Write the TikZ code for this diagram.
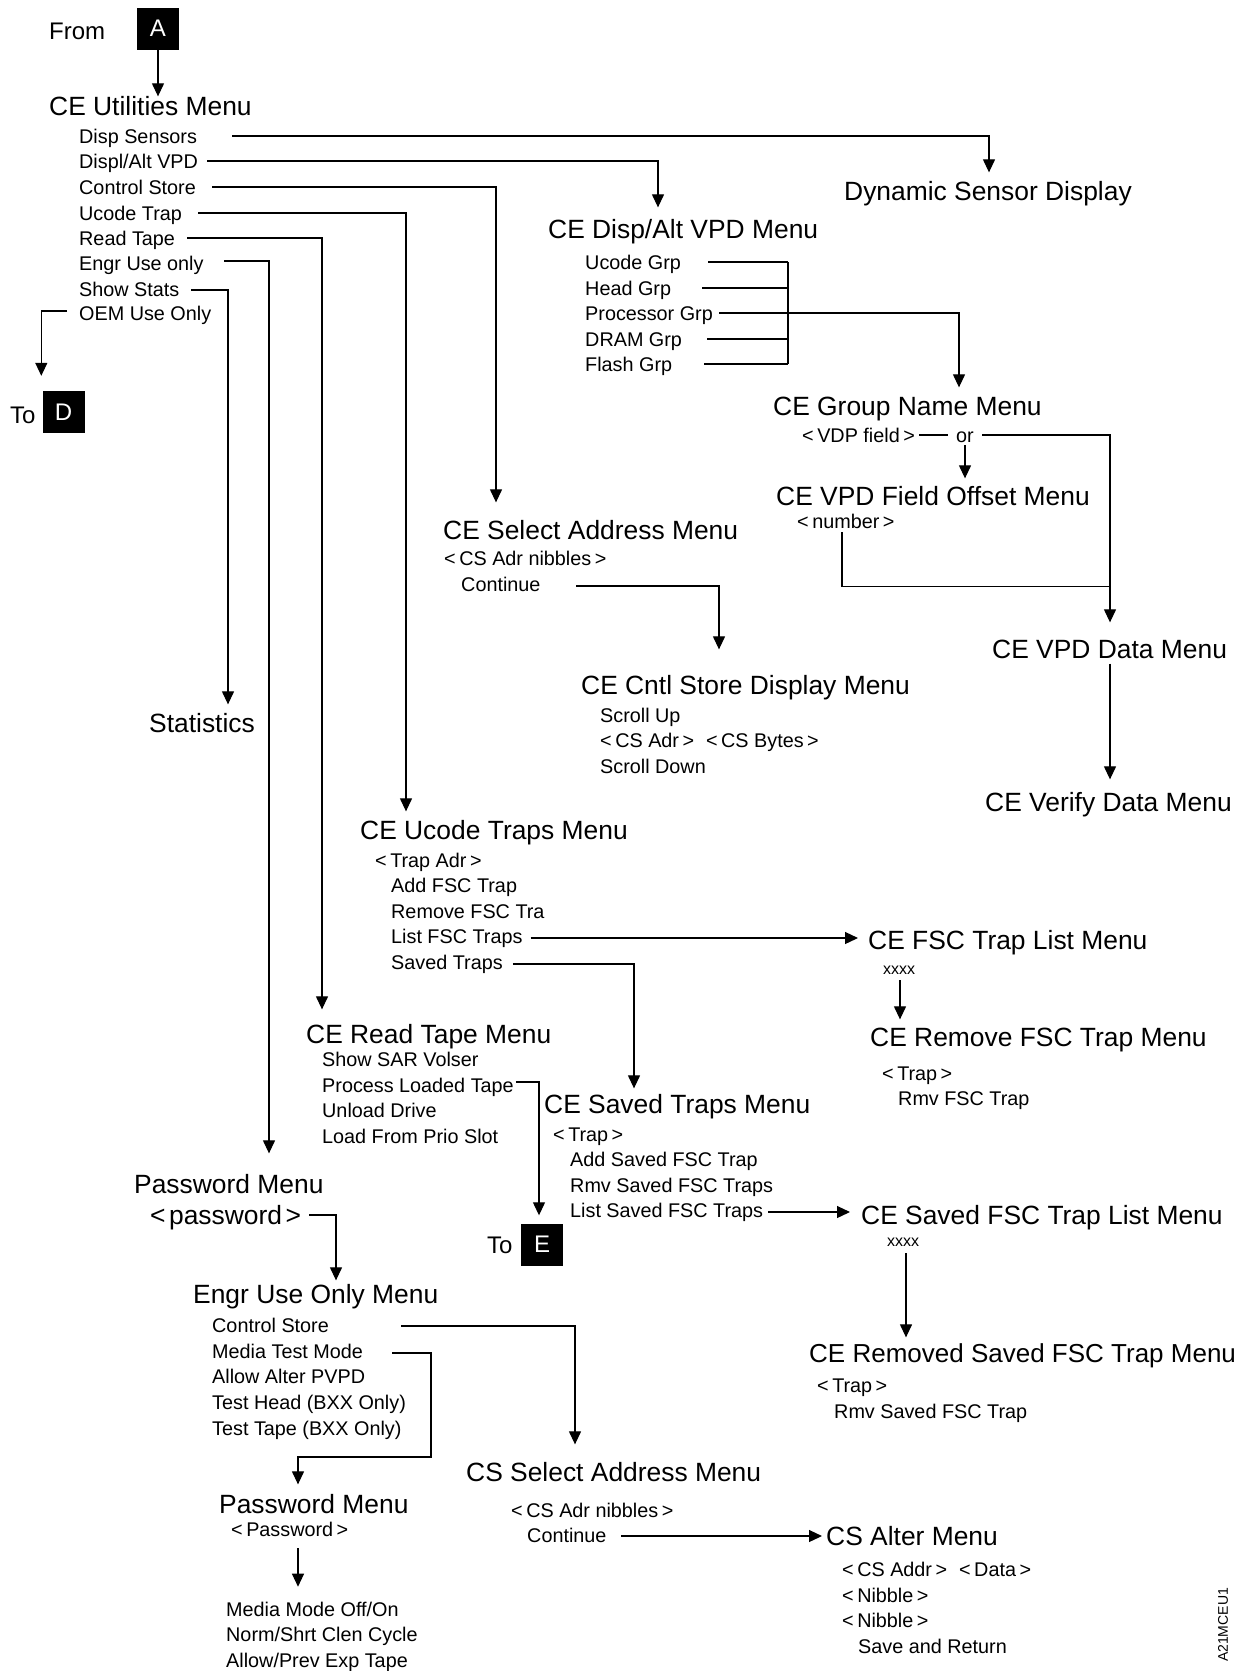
\documentclass[tikz,border=0pt]{standalone}
\usepackage{fontspec}
\setmainfont{Liberation Sans}
\usetikzlibrary{arrows.meta,calc}
\newcommand{\myla}{<\hspace{3.5pt}}
\newcommand{\myra}{\hspace{3.5pt}>}
\begin{document}
\begin{tikzpicture}[x=1pt,y=-1pt,
  hd/.style={font=\fontsize{26.4}{30}\selectfont, inner sep=0pt, anchor=west, text height=18.9pt, text depth=0pt},
  it/.style={font=\fontsize{19.8}{23}\selectfont, inner sep=0pt, anchor=west, text height=14.2pt, text depth=0pt},
  sm/.style={font=\fontsize{16}{18}\selectfont, inner sep=0pt, anchor=west, text height=8pt, text depth=0pt},
  lbl/.style={font=\fontsize{24}{28}\selectfont, inner sep=0pt, anchor=west, text height=17.2pt, text depth=0pt},
  blk/.style={fill=black, text=white, font=\fontsize{24}{28}\selectfont, minimum width=42pt, minimum height=42pt, inner sep=0pt},
  ln/.style={line width=1.2pt},
  arr/.style={ln, -{Triangle[length=13pt,width=12pt]}},
]
\useasboundingbox (0,0) rectangle (1239,1671);

% ---------- top ----------
\node[lbl] (from) at (49,31) {From};
\node[blk] (A) at (158,28.5) {A};
\node[hd] (util) at (49,106) {CE Utilities Menu};
\node[it] (ds) at (79,136) {Disp Sensors};
\node[it] (dv) at (79,161) {Displ/Alt VPD};
\node[it] (cs) at (79,187) {Control Store};
\node[it] (ut) at (79,213) {Ucode Trap};
\node[it] (rt) at (79,238) {Read Tape};
\node[it] (eu) at (79,263) {Engr Use only};
\node[it] (ss) at (79,289) {Show Stats};
\node[it] (oem) at (79,313) {OEM Use Only};
\node[lbl] (toD) at (10,415) {To};
\node[blk] (D) at (63.5,412) {D};

% ---------- headings ----------
\node[hd] (dsd) at (844,191) {Dynamic Sensor Display};
\node[hd] (dam) at (548,229) {CE Disp/Alt VPD Menu};
\node[it] (ug) at (585,262) {Ucode Grp};
\node[it] (hg) at (585,288) {Head Grp};
\node[it] (pg) at (585,313) {Processor Grp};
\node[it] (dg) at (585,339) {DRAM Grp};
\node[it] (fg) at (585,364) {Flash Grp};

\node[hd] (gnm) at (773,406) {CE Group Name Menu};
\node[it] (vdp) at (802,435) {\myla VDP field\myra};
\node[it] (or) at (956,435) {or};
\node[hd] (vfo) at (776,496) {CE VPD Field Offset Menu};
\node[it] (num) at (797,521) {\myla number\myra};
\node[hd] (vdm) at (992,649) {CE VPD Data Menu};
\node[hd] (vrf) at (985,802) {CE Verify Data Menu};

\node[hd] (sam) at (443,530) {CE Select Address Menu};
\node[it] (cadr) at (444,558) {\myla CS Adr nibbles\myra};
\node[it] (cont) at (461,584) {Continue};
\node[hd] (csd) at (581,685) {CE Cntl Store Display Menu};
\node[it] (su) at (600,715) {Scroll Up};
\node[it] (cab) at (600,740) {\myla CS Adr\myra\hspace{12pt}\myla CS Bytes\myra};
\node[it] (sd) at (600,766) {Scroll Down};

\node[hd] (stat) at (149,723) {Statistics};

\node[hd] (utm) at (360,830) {CE Ucode Traps Menu};
\node[it] (tadr) at (375,860) {\myla Trap Adr\myra};
\node[it] (aft) at (391,885) {Add FSC Trap};
\node[it] (remt) at (391,911) {Remove FSC Tra};
\node[it] (lft) at (391,936) {List FSC Traps};
\node[it] (svt) at (391,962) {Saved Traps};

\node[hd] (ftl) at (868,940) {CE FSC Trap List Menu};
\node[sm] (x1) at (883,970) {xxxx};
\node[hd] (rft) at (870,1037) {CE Remove FSC Trap Menu};
\node[it] (rtrp) at (882,1073) {\myla Trap\myra};
\node[it] (rmv) at (898,1098) {Rmv FSC Trap};

\node[hd] (rtm) at (306,1034) {CE Read Tape Menu};
\node[it] (sar) at (322,1059) {Show SAR Volser};
\node[it] (plt) at (322,1085) {Process Loaded Tape};
\node[it] (uld) at (322,1110) {Unload Drive};
\node[it] (lfp) at (322,1136) {Load From Prio Slot};
\node[lbl] (toE) at (487,1245) {To};
\node[blk] (E) at (542,1244.5) {E};

\node[hd] (stm) at (544,1104) {CE Saved Traps Menu};
\node[it] (strp) at (553,1134) {\myla Trap\myra};
\node[it] (asf) at (570,1159) {Add Saved FSC Trap};
\node[it] (rsft) at (570,1185) {Rmv Saved FSC Traps};
\node[it] (lsf) at (570,1210) {List Saved FSC Traps};

\node[hd] (sfl) at (861,1215) {CE Saved FSC Trap List Menu};
\node[sm] (x2) at (887,1242) {xxxx};
\node[hd, font=\fontsize{26}{30}\selectfont] (rsf) at (809,1353) {CE Removed Saved FSC Trap Menu};
\node[it] (rstp) at (817,1385) {\myla Trap\myra};
\node[it] (rsv) at (834,1411) {Rmv Saved FSC Trap};

\node[hd] (pwm) at (134,1184) {Password Menu};
\node[hd] (pwd) at (150,1215) {\myla password\myra};
\node[hd] (euo) at (193,1294) {Engr Use Only Menu};
\node[it] (ecs) at (212,1325) {Control Store};
\node[it] (mtm) at (212,1351) {Media Test Mode};
\node[it] (aap) at (212,1376) {Allow Alter PVPD};
\node[it] (thd) at (212,1402) {Test Head (BXX Only)};
\node[it] (ttp) at (212,1428) {Test Tape (BXX Only)};

\node[hd] (pwm2) at (219,1504) {Password Menu};
\node[it] (pwd2) at (231,1529) {\myla Password\myra};
\node[it] (mmo) at (226,1609) {Media Mode Off/On};
\node[it] (nsc) at (226,1634) {Norm/Shrt Clen Cycle};
\node[it] (ape) at (226,1660) {Allow/Prev Exp Tape};

\node[hd] (csa) at (466,1472) {CS Select Address Menu};
\node[it] (cnib) at (511,1510) {\myla CS Adr nibbles\myra};
\node[it] (ccont) at (527,1535) {Continue};
\node[hd] (cam) at (826,1536) {CS Alter Menu};
\node[it] (cad) at (842,1569) {\myla CS Addr\myra\hspace{12pt}\myla Data\myra};
\node[it] (nb1) at (842,1595) {\myla Nibble\myra};
\node[it] (nb2) at (842,1620) {\myla Nibble\myra};
\node[it] (svr) at (858,1646) {Save and Return};

\node[font=\fontsize{14}{16}\selectfont, rotate=90, inner sep=0pt] (code) at (1223,1625) {A21MCEU1};

% ---------- connectors ----------
\draw[arr] (A.south) -- (A.south |- util.north);
\draw[arr] ($(ds.west)+(153,0)$) -| ($(dsd.north west)+(145,-9)$);
\draw[arr] ($(dv.west)+(128,0)$) -| ($(dam.north west)+(110,-12)$);
\draw[arr] ($(cs.west)+(133,0)$) -| ($(sam.north west)+(53,-18)$);
\draw[arr] ($(ut.west)+(119,0)$) -| ($(utm.north west)+(46,-9)$);
\draw[arr] ($(rt.west)+(108,0)$) -| ($(rtm.north west)+(16,-15)$);
\draw[arr] ($(eu.west)+(145,-2)$) -| ($(pwm.north west)+(135,-21)$);
\draw[arr] ($(ss.west)+(112,1)$) -| ($(stat.north west)+(79,-9)$);
\draw[arr] ($(oem.west)+(-12,-2)$) -| ($(D.north west)+(-1,-15)$);

\coordinate (bt) at ($(ug.west)+(203,0)$);
\draw[ln] ($(ug.west)+(123,0)$) -- (bt);
\draw[ln] ($(hg.west)+(117,0)$) -- (hg.west -| bt);
\draw[ln] ($(dg.west)+(122,0)$) -- (dg.west -| bt);
\draw[ln] ($(fg.west)+(119,0)$) -- (fg.west -| bt);
\draw[ln] (bt) -- (fg.west -| bt);
\draw[arr] ($(pg.east)+(6,0)$) -| ($(gnm.north west)+(186,-9)$);

\draw[ln] ($(vdp.east)+(4,0)$) -- ($(or.west)+(-8,0)$);
\draw[arr] ($(or.east)+(8,0)$) -| ($(vdm.north west)+(118,-17)$);
\draw[arr] ($(or.south west)+(9,3)$) -- ($(vfo.north west)+(189,-8)$);
\coordinate (nj) at ($(vdm.north west)+(118,-53)$);
\draw[ln] ($(num.south west)+(45,4)$) |- (nj);
\draw[arr] ($(vdm.south west)+(118,5)$) -- ($(vrf.north west)+(125,-13)$);

\draw[arr] ($(cont.west)+(115,2)$) -| ($(csd.north west)+(138,-26)$);

\draw[arr] ($(lft.east)+(8,2)$) -- ($(lft.east -| ftl.west)+(-10,2)$);
\draw[arr] ($(svt.east)+(10,2)$) -| ($(stm.north west)+(90,-6)$);
\draw[arr] ($(x1.south west)+(17,6)$) -- ($(rft.north west)+(30,-8)$);

\draw[arr] ($(plt.east)+(2,-3)$) -| ($(E.north)+(-3,-8)$);
\draw[arr] ($(lsf.east)+(5,2)$) -- ($(lsf.east -| sfl.west)+(-11,2)$);
\draw[arr] ($(x2.south west)+(19,7)$) -- ($(rsf.north west)+(97,-6)$);

\draw[arr] ($(pwd.west)+(159,0)$) -| ($(euo.north west)+(143,-4)$);
\draw[arr] ($(ecs.west)+(189,1)$) -| ($(csa.north west)+(109,-18)$);
\coordinate (mt1) at ($(mtm.west)+(219,106)$);
\draw[arr] ($(mtm.west)+(180,2)$) -| (mt1) -| ($(pwm2.north west)+(79,-10)$);
\draw[arr] ($(pwd2.south west)+(67,12)$) -- ($(mmo.north west)+(72,-15)$);
\draw[arr] ($(ccont.west)+(94,1)$) -- ($(ccont.west -| cam.west)+(-4,1)$);
\end{tikzpicture}
\end{document}
